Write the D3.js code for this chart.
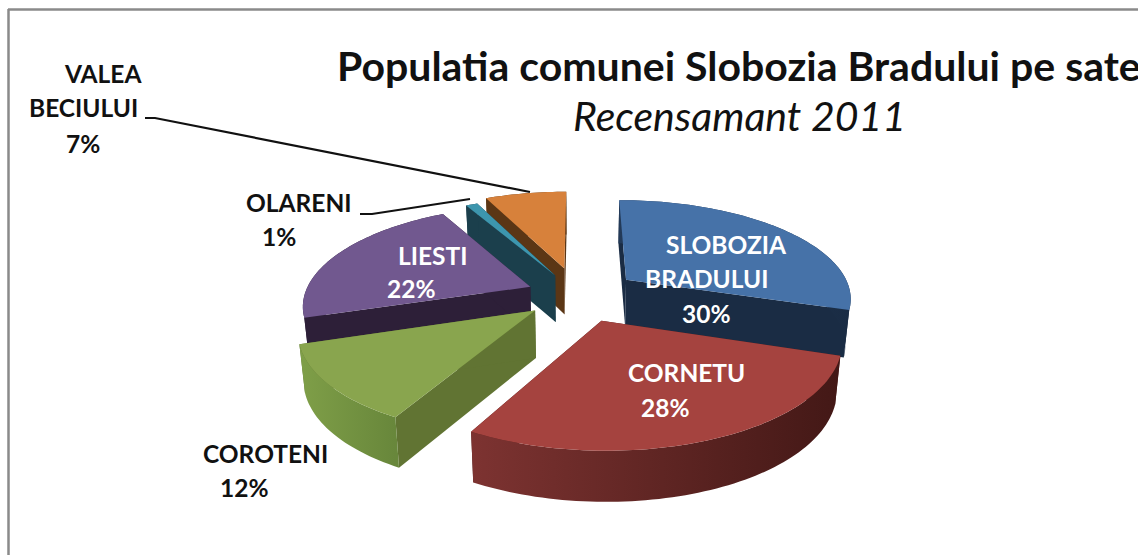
<!DOCTYPE html>
<html><head><meta charset="utf-8">
<style>html,body{margin:0;padding:0;background:#fff;overflow:hidden}svg{display:block}</style>
<script src="https://cdn.jsdelivr.net/npm/d3@7"></script>
</head><body><svg id="c" width="1138" height="555"></svg>
<script>
const villages = ["SLOBOZIA BRADULUI","CORNETU","COROTENI","LIESTI","OLARENI","VALEA BECIULUI"];
const shares = [30,28,12,22,1,7];
const chartTitle = "Populatia comunei Slobozia Bradului pe sate";
const chartSubtitle = "Recensamant 2011";

// per-point pie explosion (fraction of radius) and colours
const explosion = [0.27,0.27,0.24,0.23,0.23,0.29];
const topColors = ["#4672a8","#a5433f","#89a54e","#71588f","#3d96ae","#d7813b"];
const cutColors = ["#1a2c44","#4a1c1a","#617433","#2d1f38","#1b3f4c","#5b3615"];
const wallFrom  = ["#233a58","#7d3331","#7f9f48","#2d1f38","#1b3f4c","#5b3615"];
const wallTo    = ["#1a2c44","#431816","#68873b","#2d1f38","#1b3f4c","#5b3615"];
const paintOrder = [0,5,4,3,2,1];

// label layout: [line, x, baseline]
const labelLayout = [
 [["SLOBOZIA",666,254],["BRADULUI",645,288],["30%",682,323]],
 [["CORNETU",628,382],["28%",641,417]],
 [["COROTENI",203,463],["12%",220,497]],
 [["LIESTI",398,265],["22%",387,298]],
 [["OLARENI",246,212],["1%",262,246]],
 [["VALEA",65,83],["BECIULUI",29,117],["7%",66,153]]
];
const labelFill = ["#fff","#fff","#111","#fff","#111","#111"];
const leaders = [
 [[145,118],[155,118],[530,192]],
 [[360,214],[372,214],[470,199]]
];

const svg = d3.select("#c");
const defs = svg.append("defs");

// projection
const cx=578, cy=295, Rx=226, Ry=98, k=0.17, Depth=47;
const sx = d3.scaleLinear().domain([0,1]).range([cx,cx+Rx]);
const sy = d3.scaleLinear().domain([0,1]).range([cy,cy+Ry]);
function project(X,Y,z){
  const s = 1/(1-k*Y);
  const px = sx(X*s), py = sy(Y*s);
  return [cx+(px-cx)*(1-0.02*z), py+z*Depth*(1+0.07*Y)];
}
const pie = d3.pie().sort(null).value(d=>d).startAngle(0).endAngle(2*Math.PI);
const arcs = pie(shares);
const line = d3.line();

function slicePaths(a,i){
  const mid=(a.startAngle+a.endAngle)/2, e=explosion[i];
  const ox=Math.sin(mid)*e, oy=-Math.cos(mid)*e;
  const n=Math.max(2,Math.ceil((a.endAngle-a.startAngle)*40));
  const angs=d3.range(n+1).map(j=>a.startAngle+(a.endAngle-a.startAngle)*j/n);
  const rim=z=>angs.map(t=>project(ox+Math.sin(t),oy-Math.cos(t),z));
  const apex=z=>project(ox,oy,z);
  const r0=rim(0), r1=rim(1);
  return {
    top:[apex(0),...r0],
    wall:[...r0,...r1.slice().reverse()],
    startFace:[apex(0),r0[0],r1[0],apex(1)],
    endFace:[apex(0),r0[n],r1[n],apex(1)],
    rim:r0
  };
}

paintOrder.forEach(i=>{
  const p=slicePaths(arcs[i],i);
  const xs=p.rim.map(d=>d[0]);
  const g=defs.append("linearGradient").attr("id","w"+i).attr("gradientUnits","userSpaceOnUse")
    .attr("x1",d3.min(xs)).attr("x2",d3.max(xs)).attr("y1",0).attr("y2",0);
  g.append("stop").attr("offset",0).attr("stop-color",wallFrom[i]);
  g.append("stop").attr("offset",1).attr("stop-color",wallTo[i]);
  const grp=svg.append("g").attr("class","slice").datum(arcs[i]);
  grp.append("path").attr("d",line(p.startFace)+"Z").attr("fill",cutColors[i]);
  grp.append("path").attr("d",line(p.endFace)+"Z").attr("fill",cutColors[i]);
  grp.append("path").attr("d",line(p.wall)+"Z").attr("fill",`url(#w${i})`);
  grp.append("path").attr("d",line(p.top)+"Z").attr("fill",topColors[i]);
});

// frame
svg.append("line").attr("x1",8.5).attr("x2",8.5).attr("y1",9).attr("y2",555).attr("stroke","#8a8a8a").attr("stroke-width",2.5);
svg.append("line").attr("x1",8).attr("x2",1138).attr("y1",9.5).attr("y2",9.5).attr("stroke","#8a8a8a").attr("stroke-width",2.5);

// leaders
leaders.forEach(l=>svg.append("path").attr("d",line(l)).attr("fill","none").attr("stroke","#111").attr("stroke-width",2.2));

// labels
const font="Lato, Carlito, sans-serif";
labelLayout.forEach((lines,i)=>lines.forEach(([t,x,y])=>{
  svg.append("text").attr("x",x).attr("y",y).text(t)
    .attr("font-family",font).attr("font-weight",700).attr("font-size",24.5).attr("fill",labelFill[i]);
}));
svg.append("text").attr("x",337).attr("y",81).text(chartTitle)
  .attr("font-family",font).attr("font-weight",700).attr("font-size",41).attr("fill","#111");
svg.append("text").attr("x",573).attr("y",131).text(chartSubtitle)
  .attr("font-family",font).attr("font-style","italic").attr("font-size",41).attr("fill","#111");
</script></body></html>
